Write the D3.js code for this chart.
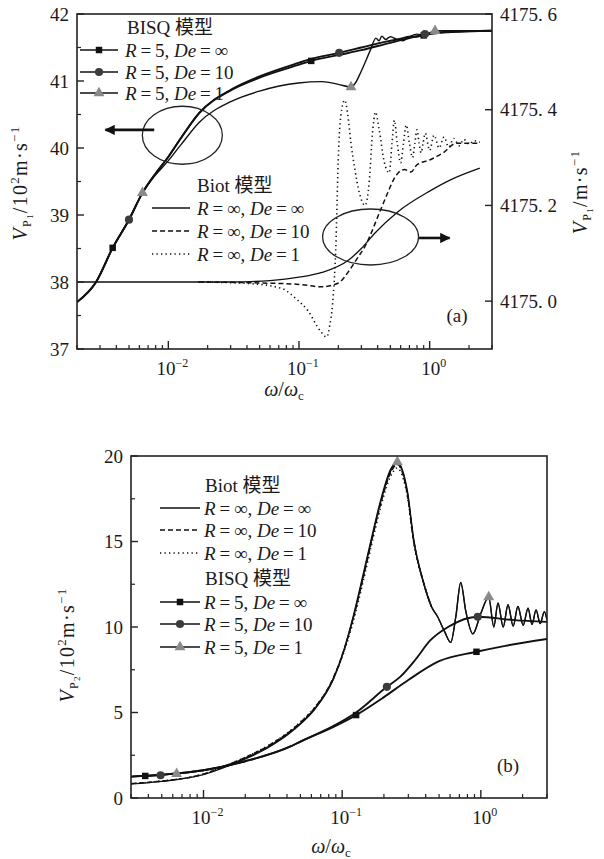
<!DOCTYPE html>
<html>
<head>
<meta charset="utf-8">
<script src="https://cdn.jsdelivr.net/npm/d3@7"></script>
<style>
  body { margin: 0; background: #fff; }
  text { font-family: "Liberation Serif", "Times New Roman", serif; fill: #1a1a1a; }
  .cjk { font-family: "Noto Sans CJK SC", sans-serif; }
</style>
</head>
<body>
<svg id="chart" width="604" height="859"></svg>
<script>
// ---------- panel (a) data : x = omega/omega_c ----------
// BISQ curves, left axis (10^2 m/s)
const aBisqInf = [[0.002,37.70],[0.0028,38.0],[0.00375,38.51],[0.005,38.93],[0.00634,39.33],[0.008,39.62],[0.0096,39.82],[0.0125,40.15],[0.0172,40.52],[0.0307,40.87],[0.05,41.05],[0.099,41.24],[0.124,41.30],[0.203,41.39],[0.3,41.46],[0.5,41.57],[0.92,41.69],[1.5,41.73],[3,41.75]];
const aBisq10 = [[0.002,37.70],[0.0028,38.0],[0.00375,38.51],[0.005,38.93],[0.00634,39.33],[0.008,39.62],[0.0096,39.82],[0.0125,40.15],[0.0172,40.52],[0.0307,40.88],[0.05,41.07],[0.099,41.27],[0.124,41.33],[0.203,41.42],[0.3,41.50],[0.42,41.57],[0.5,41.60],[0.6,41.63],[0.7,41.66],[0.8,41.66],[0.92,41.70],[1.5,41.74],[3,41.75]];
const aBisq1 = [[0.002,37.70],[0.0028,38.0],[0.00375,38.51],[0.005,38.93],[0.00634,39.33],[0.008,39.60],[0.0096,39.77],[0.0125,40.05],[0.0172,40.38],[0.0307,40.70],[0.05,40.85],[0.099,40.97],[0.15,40.99],[0.2,40.95],[0.25,40.91],[0.27,40.97],[0.3,41.15],[0.35,41.45],[0.388,41.64],[0.41,41.60],[0.43,41.67],[0.46,41.62],[0.5,41.66],[0.56,41.62],[0.62,41.60],[0.7,41.66],[0.8,41.70],[0.9,41.68],[1.1,41.75],[3,41.75]];
// Biot curves, right axis (m/s)
const aBiotInf = [[0.002,4175.04],[0.03,4175.04],[0.06,4175.043],[0.1,4175.05],[0.15,4175.06],[0.24,4175.086],[0.3,4175.11],[0.38,4175.142],[0.566,4175.186],[1.0,4175.23],[1.43,4175.253],[2.42,4175.278]];
const aBiot10 = [[0.017,4175.04],[0.05,4175.038],[0.1,4175.035],[0.15,4175.03],[0.2,4175.038],[0.244,4175.065],[0.28,4175.09],[0.318,4175.113],[0.42,4175.19],[0.475,4175.225],[0.545,4175.26],[0.64,4175.275],[0.72,4175.27],[0.8,4175.285],[1.0,4175.295],[1.27,4175.31],[1.6,4175.33],[2.42,4175.33]];
const aBiot1 = [[0.017,4175.04],[0.04,4175.037],[0.073,4175.027],[0.095,4175.005],[0.117,4174.98],[0.147,4174.936],[0.163,4174.925],[0.172,4174.95],[0.181,4174.996],[0.191,4175.107],[0.201,4175.316],[0.212,4175.40],[0.224,4175.42],[0.236,4175.39],[0.25,4175.33],[0.266,4175.28],[0.29,4175.226],[0.32,4175.20],[0.345,4175.25],[0.365,4175.35],[0.385,4175.395],[0.41,4175.36],[0.45,4175.29],[0.49,4175.268],[0.515,4175.33],[0.537,4175.378],[0.565,4175.33],[0.6,4175.289],[0.63,4175.33],[0.662,4175.368],[0.7,4175.33],[0.74,4175.30],[0.77,4175.33],[0.80,4175.358],[0.83,4175.33],[0.86,4175.31],[0.89,4175.33],[0.925,4175.351],[1.0,4175.315],[1.08,4175.347],[1.18,4175.32],[1.29,4175.343],[1.4,4175.322],[1.53,4175.34],[1.68,4175.325],[1.83,4175.338],[2.0,4175.328],[2.18,4175.335],[2.42,4175.332]];
const aSquares = [[0.00375,38.51],[0.124,41.30],[0.9,41.68]];
const aCircles = [[0.005,38.93],[0.203,41.42],[0.92,41.70]];
const aTriangles = [[0.00634,39.33],[0.25,40.91],[1.1,41.75]];

// ---------- panel (b) data ----------
const bBiotInf = [[0.003,0.82],[0.005,0.97],[0.0098,1.35],[0.0137,1.75],[0.0216,2.4],[0.03,3.0],[0.042,3.8],[0.0496,4.3],[0.0637,5.2],[0.086,6.9],[0.102,8.5],[0.12,10.5],[0.142,13.0],[0.165,15.3],[0.188,17.2],[0.223,19.1],[0.25,19.6],[0.275,19.0],[0.296,17.8],[0.327,15.1],[0.386,12.6],[0.44,11.2],[0.488,10.6],[0.55,9.7],[0.606,9.1],[0.66,10.6],[0.716,12.6],[0.78,10.9],[0.875,9.6],[1.0,10.8],[1.14,11.75],[1.24,10.0],[1.33,11.4],[1.45,10.0],[1.57,11.3],[1.71,10.05],[1.85,11.2],[2.02,10.1],[2.19,11.1],[2.34,10.15],[2.5,11.0],[2.68,10.2],[2.87,10.9],[3.0,10.4]];
const bBiot10 = [[0.003,0.84],[0.005,0.99],[0.0098,1.38],[0.0137,1.8],[0.0216,2.5],[0.03,3.1],[0.042,3.9],[0.0496,4.4],[0.0637,5.3],[0.086,7.0],[0.102,8.55],[0.12,10.5],[0.142,12.9],[0.165,15.2],[0.188,17.1],[0.223,19.0],[0.25,19.5],[0.275,18.9],[0.296,17.7],[0.327,15.1],[0.386,12.6],[0.44,11.2]];
const bBiot1 = [[0.003,0.84],[0.005,0.99],[0.0098,1.38],[0.0137,1.82],[0.0216,2.5],[0.03,3.12],[0.042,3.92],[0.0496,4.42],[0.0637,5.32],[0.086,6.95],[0.102,8.45],[0.12,10.3],[0.142,12.7],[0.165,15.0],[0.188,16.9],[0.223,18.8],[0.25,19.3],[0.275,18.7],[0.296,17.6],[0.327,15.0],[0.386,12.6],[0.44,11.2]];
const bBisqInf = [[0.003,1.25],[0.005,1.36],[0.01,1.62],[0.02,2.15],[0.042,3.0],[0.05,3.3],[0.086,4.15],[0.126,4.85],[0.2,5.9],[0.3,6.9],[0.5,8.0],[0.93,8.55],[1.5,8.9],[3.0,9.3]];
const bBisq10 = [[0.003,1.25],[0.005,1.36],[0.01,1.62],[0.02,2.15],[0.042,3.0],[0.05,3.3],[0.086,4.2],[0.126,5.0],[0.21,6.5],[0.263,7.1],[0.338,8.1],[0.43,9.2],[0.58,10.0],[0.95,10.6],[1.74,10.4],[3.0,10.3]];
const bBisq1 = [[0.003,1.25],[0.005,1.36],[0.0064,1.42],[0.0098,1.6],[0.0137,1.85],[0.0216,2.45],[0.03,3.05],[0.042,3.85],[0.0637,5.25],[0.086,6.95],[0.102,8.55],[0.12,10.6],[0.142,13.1],[0.165,15.4],[0.188,17.3],[0.223,19.2],[0.25,19.65],[0.275,19.05],[0.296,17.9],[0.327,15.2],[0.386,12.6],[0.44,11.2],[0.488,10.6],[0.55,9.7],[0.606,9.1],[0.66,10.6],[0.716,12.6],[0.78,10.9],[0.875,9.6],[1.0,10.8],[1.14,11.75],[1.24,10.0],[1.33,11.4],[1.45,10.0],[1.57,11.3],[1.71,10.05],[1.85,11.2],[2.02,10.1],[2.19,11.1],[2.34,10.15],[2.5,11.0],[2.68,10.2],[2.87,10.9],[3.0,10.4]];
const bSquares = [[0.0038,1.29],[0.126,4.85],[0.93,8.55]];
const bCircles = [[0.0049,1.33],[0.21,6.5],[0.95,10.6]];
const bTriangles = [[0.0064,1.42],[0.25,19.65],[1.14,11.75]];

// tick values
const aLeftTicks = [37, 38, 39, 40, 41, 42];
const aRightTicks = [4175.0, 4175.2, 4175.4, 4175.6];
const bLeftTicks = [0, 5, 10, 15, 20];
const logMajor = [0.01, 0.1, 1];

const svg = d3.select("#chart");

// panel boxes
const A = {left: 77, right: 492, top: 14, bottom: 349};
const B = {left: 131, right: 547, top: 456, bottom: 798};

const xA = d3.scaleLog().domain([0.002, 3]).range([A.left, A.right]);
const yAL = d3.scaleLinear().domain([37, 42]).range([A.bottom, A.top]);
const yAR = d3.scaleLinear().domain([4174.9, 4175.6]).range([A.bottom, A.top]);
const xB = d3.scaleLog().domain([0.003, 3]).range([B.left, B.right]);
const yB = d3.scaleLinear().domain([0, 20]).range([B.bottom, B.top]);

const marker = {
    square: d3.symbol().type(d3.symbolSquare).size(42),
    circle: d3.symbol().type(d3.symbolCircle).size(52),
    triangle: d3.symbol().type(d3.symbolTriangle).size(52)
};
const markerFill = {square: "#111", circle: "#3c3c3c", triangle: "#8a8a8a"};

const styles = {
    bisq: {w: 1.9},
    solid: {w: 1.3},
    dashed: {w: 1.5, dash: "5,3"},
    dotted: {w: 1.6, dash: "1.3,3.2"}
};

function clip(id, box) {
    svg.append("clipPath").attr("id", id).append("rect")
        .attr("x", box.left).attr("y", box.top)
        .attr("width", box.right - box.left).attr("height", box.bottom - box.top);
}
clip("clipA", A);
clip("clipB", B);

function curve(g, data, x, y, st) {
    g.append("path").datum(data)
        .attr("fill", "none")
        .attr("stroke", "#111")
        .attr("stroke-width", st.w)
        .attr("stroke-dasharray", st.dash || null)
        .attr("stroke-linejoin", "round")
        .attr("d", d3.line().x(d => x(d[0])).y(d => y(d[1])).curve(d3.curveMonotoneX));
}

function markers(g, data, x, y, type) {
    g.selectAll(null).data(data).join("path")
        .attr("transform", d => `translate(${x(d[0])},${y(d[1])})`)
        .attr("d", marker[type])
        .attr("fill", markerFill[type]);
}

function frame(box) {
    svg.append("rect")
        .attr("x", box.left).attr("y", box.top)
        .attr("width", box.right - box.left).attr("height", box.bottom - box.top)
        .attr("fill", "none").attr("stroke", "#222").attr("stroke-width", 1.6);
}

// inward ticks on a vertical axis
function yTicks(y, xPos, major, minorStep, dir, labelFn) {
    const g = svg.append("g");
    const [d0, d1] = y.domain();
    const minor = d3.range(Math.ceil(d0 / minorStep) * minorStep, d1 + 1e-9, minorStep)
        .filter(v => !major.some(m => Math.abs(m - v) < 1e-9));
    g.selectAll(null).data(major).join("line")
        .attr("x1", xPos).attr("x2", xPos + dir * 7)
        .attr("y1", d => y(d)).attr("y2", d => y(d))
        .attr("stroke", "#222").attr("stroke-width", 1.4);
    g.selectAll(null).data(minor).join("line")
        .attr("x1", xPos).attr("x2", xPos + dir * 4)
        .attr("y1", d => y(d)).attr("y2", d => y(d))
        .attr("stroke", "#222").attr("stroke-width", 1.2);
    g.selectAll(null).data(major).join("text")
        .attr("x", xPos - dir * 8)
        .attr("y", d => y(d)).attr("dy", "0.35em")
        .attr("text-anchor", dir > 0 ? "end" : "start")
        .attr("font-size", 19)
        .text(labelFn);
}

function xTicks(x, yPos) {
    const g = svg.append("g");
    const all = x.ticks();
    const minor = all.filter(v => !logMajor.some(m => Math.abs(m - v) < 1e-9));
    g.selectAll(null).data(logMajor).join("line")
        .attr("x1", d => x(d)).attr("x2", d => x(d))
        .attr("y1", yPos).attr("y2", yPos - 8)
        .attr("stroke", "#222").attr("stroke-width", 1.4);
    g.selectAll(null).data(minor).join("line")
        .attr("x1", d => x(d)).attr("x2", d => x(d))
        .attr("y1", yPos).attr("y2", yPos - 4)
        .attr("stroke", "#222").attr("stroke-width", 1.2);
    const t = g.selectAll(null).data(logMajor).join("text")
        .attr("x", d => x(d) + 4).attr("y", yPos + 26)
        .attr("text-anchor", "middle")
        .attr("font-size", 19);
    t.append("tspan").text("10");
    t.append("tspan").attr("dy", -8).attr("font-size", 12)
        .text(d => Math.round(Math.log10(d)) === 0 ? "0" : "\u2212" + Math.abs(Math.round(Math.log10(d))));
}

function xTitle(cx, y) {
    const t = svg.append("text").attr("x", cx).attr("y", y)
        .attr("text-anchor", "middle").attr("font-size", 20);
    t.append("tspan").attr("font-style", "italic").text("\u03c9");
    t.append("tspan").text("/");
    t.append("tspan").attr("font-style", "italic").text("\u03c9");
    t.append("tspan").attr("font-size", 13).attr("dy", 4).text("c");
}

function yTitle(cx, cy, sub, scaled) {
    const t = svg.append("text")
        .attr("transform", `translate(${cx},${cy}) rotate(-90)`)
        .attr("text-anchor", "middle").attr("font-size", 20)
        .attr("letter-spacing", 1.3);
    t.append("tspan").attr("font-style", "italic").text("V");
    t.append("tspan").attr("font-size", 12).attr("dy", 4).text("P");
    t.append("tspan").attr("font-size", 9).attr("dy", 2).text(sub);
    t.append("tspan").attr("dy", -6).text(scaled ? "/10" : "/m\u00b7s");
    if (scaled) {
        t.append("tspan").attr("font-size", 13).attr("dy", -8).text("2");
        t.append("tspan").attr("dy", 8).text("m\u00b7s");
    }
    t.append("tspan").attr("font-size", 13).attr("dy", -8).text("\u22121");
}

function header(x, y, latin) {
    const t = svg.append("text").attr("x", x).attr("y", y).attr("dy", "0.35em").attr("font-size", 19);
    t.append("tspan").text(latin + " ");
    t.append("tspan").attr("class", "cjk").attr("font-size", 19).text("模型");
}

function entryText(x, y, r, de) {
    const t = svg.append("text").attr("x", x).attr("y", y).attr("dy", "0.35em").attr("font-size", 19);
    t.append("tspan").attr("font-style", "italic").text("R");
    t.append("tspan").text("\u2009=\u2009" + r + ", ");
    t.append("tspan").attr("font-style", "italic").text("De");
    t.append("tspan").text("\u2009=\u2009" + de);
}

function entryLine(x1, x2, y, st, mType) {
    svg.append("line").attr("x1", x1).attr("x2", x2).attr("y1", y).attr("y2", y)
        .attr("stroke", "#111").attr("stroke-width", mType ? 1.6 : st.w)
        .attr("stroke-dasharray", st.dash || null);
    if (mType) {
        svg.append("path").attr("transform", `translate(${(x1 + x2) / 2},${y})`)
            .attr("d", marker[mType]).attr("fill", markerFill[mType]);
    }
}

// ================= panel (a) =================
const gA = svg.append("g").attr("clip-path", "url(#clipA)");
curve(gA, aBiotInf, xA, yAR, styles.solid);
curve(gA, aBiot10, xA, yAR, styles.dashed);
curve(gA, aBiot1, xA, yAR, styles.dotted);
curve(gA, aBisq1, xA, yAL, {w: 1.4});
curve(gA, aBisq10, xA, yAL, styles.bisq);
curve(gA, aBisqInf, xA, yAL, styles.bisq);
markers(gA, aSquares, xA, yAL, "square");
markers(gA, aCircles, xA, yAL, "circle");
markers(gA, aTriangles, xA, yAL, "triangle");

// annotation ellipses and arrows (in data units)
const ell1 = {x: 0.0128, y: 40.19, rx: 40, ry: 29};
svg.append("ellipse").attr("cx", xA(ell1.x)).attr("cy", yAL(ell1.y))
    .attr("rx", ell1.rx).attr("ry", ell1.ry)
    .attr("fill", "none").attr("stroke", "#222").attr("stroke-width", 1.3);
const ell2 = {x: 0.353, y: 4175.134, rx: 48, ry: 28};
svg.append("ellipse").attr("cx", xA(ell2.x)).attr("cy", yAR(ell2.y))
    .attr("rx", ell2.rx).attr("ry", ell2.ry)
    .attr("fill", "none").attr("stroke", "#222").attr("stroke-width", 1.3);

svg.append("defs").append("marker").attr("id", "arr")
    .attr("viewBox", "0 0 10 10").attr("refX", 9).attr("refY", 5)
    .attr("markerWidth", 5.5).attr("markerHeight", 4).attr("orient", "auto")
    .append("path").attr("d", "M0,0L10,5L0,10z").attr("fill", "#111");
svg.append("line").attr("x1", xA(0.0078)).attr("x2", xA(0.0033))
    .attr("y1", yAL(40.27)).attr("y2", yAL(40.27))
    .attr("stroke", "#111").attr("stroke-width", 2.6).attr("marker-end", "url(#arr)");
svg.append("line").attr("x1", xA(0.83)).attr("x2", xA(1.42))
    .attr("y1", yAR(4175.132)).attr("y2", yAR(4175.132))
    .attr("stroke", "#111").attr("stroke-width", 2.6).attr("marker-end", "url(#arr)");

frame(A);
yTicks(yAL, A.left, aLeftTicks, 0.5, 1, d => d);
yTicks(yAR, A.right, aRightTicks, 0.2, -1, d => d.toFixed(1).replace(".", ". "));
xTicks(xA, A.bottom);
xTitle(284, 396);
yTitle(27, 183, "1", true);
yTitle(587, 192, "1", false);

header(127, 27, "BISQ");
entryLine(80, 118, 50, styles.bisq, "square");
entryText(125, 50, "5", "\u221e");
entryLine(80, 118, 72, styles.bisq, "circle");
entryText(125, 72, "5", "10");
entryLine(80, 118, 93, styles.bisq, "triangle");
entryText(125, 93, "5", "1");

header(197, 185, "Biot");
entryLine(152, 190, 208, styles.solid);
entryText(197, 208, "\u221e", "\u221e");
entryLine(152, 190, 231, styles.dashed);
entryText(197, 231, "\u221e", "10");
entryLine(152, 190, 254, styles.dotted);
entryText(197, 254, "\u221e", "1");

svg.append("text").attr("x", 457).attr("y", 315).attr("dy", "0.35em")
    .attr("text-anchor", "middle").attr("font-size", 19).text("(a)");

// ================= panel (b) =================
const gB = svg.append("g").attr("clip-path", "url(#clipB)");
curve(gB, bBisqInf, xB, yB, styles.bisq);
curve(gB, bBisq10, xB, yB, styles.bisq);
curve(gB, bBisq1, xB, yB, {w: 1.4});
curve(gB, bBiotInf, xB, yB, styles.solid);
curve(gB, bBiot10, xB, yB, styles.dashed);
curve(gB, bBiot1, xB, yB, styles.dotted);
markers(gB, bSquares, xB, yB, "square");
markers(gB, bCircles, xB, yB, "circle");
markers(gB, bTriangles, xB, yB, "triangle");

frame(B);
yTicks(yB, B.left, bLeftTicks, 2.5, 1, d => d);
xTicks(xB, B.bottom);
xTitle(331, 853);
yTitle(74, 645, "2", true);

header(205, 485, "Biot");
entryLine(160, 200, 508, styles.solid);
entryText(204, 508, "\u221e", "\u221e");
entryLine(160, 200, 530, styles.dashed);
entryText(204, 530, "\u221e", "10");
entryLine(160, 200, 553, styles.dotted);
entryText(204, 553, "\u221e", "1");
header(205, 578, "BISQ");
entryLine(160, 200, 602, styles.bisq, "square");
entryText(204, 602, "5", "\u221e");
entryLine(160, 200, 624, styles.bisq, "circle");
entryText(204, 624, "5", "10");
entryLine(160, 200, 647, styles.bisq, "triangle");
entryText(204, 647, "5", "1");

svg.append("text").attr("x", 508).attr("y", 765).attr("dy", "0.35em")
    .attr("text-anchor", "middle").attr("font-size", 19).text("(b)");
</script>
</body>
</html>
